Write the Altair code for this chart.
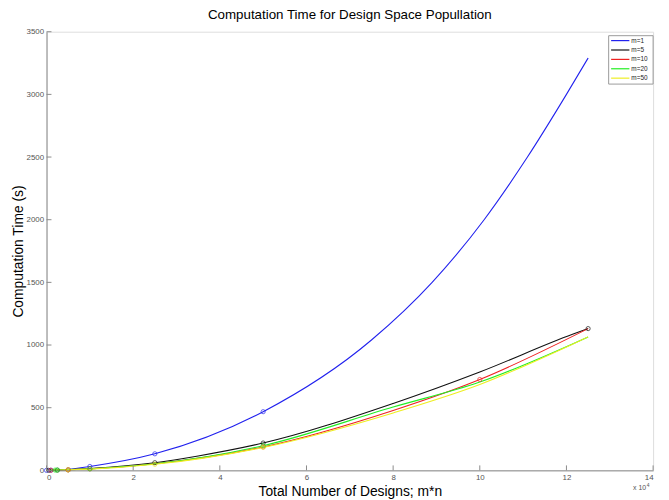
import altair as alt
import pandas as pd

# ---- data ----
SERIES = ["m=1", "m=5", "m=10", "m=20", "m=50"]
COLORS = ["#2222ee", "#111111", "#ee2222", "#22ee22", "#eeee22"]

# curve sample points (total designs, computation time in s)
X_M1 = [0, 1000, 5000, 10000, 25000, 50000, 75000, 89000, 101000, 111000, 120000, 125000]
Y_M1 = [0, 1, 8, 31, 132, 468, 1040, 1500, 2000, 2500, 3000, 3290]

X_M5 = [0, 5000, 10000, 25000, 35000, 50000, 80000, 100000, 121400, 125000]
Y_M5 = [0, 4, 14, 61, 115, 218, 534, 785, 1086, 1131]

X_M10 = [0, 1000, 10000, 25000, 50000, 80000, 100000, 125000]
Y_M10 = [0, 1, 12, 52, 187, 478, 725, 1131]

X_M20 = [0, 2000, 10000, 25000, 50000, 80000, 100000, 125000]
Y_M20 = [0, 2, 12, 52, 197, 505, 705, 1065]

X_M50 = [0, 5000, 10000, 25000, 50000, 80000, 100000, 121400, 125000]
Y_M50 = [0, 4, 10, 48, 183, 458, 685, 1007, 1065]

# marker (data) points
MX_M1 = [0, 1000, 10000, 25000, 50000]
MY_M1 = [0, 1, 31, 132, 468]
MX_M5 = [500, 2500, 5000, 25000, 50000, 125000]
MY_M5 = [0, 2, 4, 61, 218, 1131]
MX_M10 = [1000, 5000, 10000, 50000, 100000]
MY_M10 = [1, 4, 12, 187, 725]
MX_M20 = [2000, 2500, 10000, 50000]
MY_M20 = [2, 2, 12, 197]
MX_M50 = [5000, 25000, 50000]
MY_M50 = [4, 48, 183]

X_TICKS = [0, 20000, 40000, 60000, 80000, 100000, 120000, 140000]
Y_TICKS = [0, 500, 1000, 1500, 2000, 2500, 3000, 3500]

curve_x = [X_M1, X_M5, X_M10, X_M20, X_M50]
curve_y = [Y_M1, Y_M5, Y_M10, Y_M20, Y_M50]
mark_x = [MX_M1, MX_M5, MX_M10, MX_M20, MX_M50]
mark_y = [MY_M1, MY_M5, MY_M10, MY_M20, MY_M50]

curves = pd.DataFrame([
    {"series": s, "n": x, "t": y, "order": i}
    for s, xs, ys in zip(SERIES, curve_x, curve_y)
    for i, (x, y) in enumerate(zip(xs, ys))
])
markers = pd.DataFrame([
    {"series": s, "n": x, "t": y}
    for s, xs, ys in zip(SERIES, mark_x, mark_y)
    for x, y in zip(xs, ys)
])

W, H = 614, 444
color_scale = alt.Scale(domain=SERIES, range=COLORS)
xs = alt.Scale(domain=[0, 140000], nice=False)
ys = alt.Scale(domain=[0, 3500], nice=False)

font = "Liberation Sans"

x_enc = alt.X("n:Q", scale=xs, axis=alt.Axis(
    values=X_TICKS, labelExpr="datum.value / 10000", title="Total Number of Designs; m*n",
    grid=False, tickSize=0, labelPadding=3, titlePadding=3, labelFontSize=8,
    titleFontSize=14, labelColor="#555555", domainColor="#8a8a8a", titleFont=font, labelFont=font,
    titleFontWeight="normal", titleColor="#000000"))
y_enc = alt.Y("t:Q", scale=ys, axis=alt.Axis(
    values=Y_TICKS, format="d", title="Computation Time (s)", grid=False, tickSize=0,
    labelPadding=3, titlePadding=1, labelFontSize=8, titleFontSize=14, labelColor="#555555",
    domainColor="#8a8a8a", titleFont=font, labelFont=font, titleFontWeight="normal",
    titleColor="#000000"))

lines = alt.Chart(curves).mark_line(interpolate="monotone", strokeWidth=1.1, clip=True).encode(
    x=x_enc, y=y_enc,
    color=alt.Color("series:N", scale=color_scale, legend=None),
    order="order:Q",
    detail="series:N",
)

pts = alt.Chart(markers).mark_point(shape="circle", filled=False, size=18, strokeWidth=1).encode(
    x=alt.X("n:Q", scale=xs), y=alt.Y("t:Q", scale=ys),
    color=alt.Color("series:N", scale=color_scale, legend=None),
)

# inward tick marks (MATLAB style)
xt = alt.Chart(pd.DataFrame({"v": X_TICKS})).mark_rule(color="#8a8a8a", strokeWidth=1).encode(
    x=alt.X("v:Q", scale=xs), y=alt.value(H), y2=alt.value(H - 5))
yt = alt.Chart(pd.DataFrame({"v": Y_TICKS})).mark_rule(color="#8a8a8a", strokeWidth=1).encode(
    y=alt.Y("v:Q", scale=ys), x=alt.value(0), x2=alt.value(5))

# legend box
LX0, LY0 = 569, 4
legend_df = pd.DataFrame({
    "series": SERIES,
    "row": list(range(len(SERIES))),
})
legend_df["py"] = LY0 + 5 + legend_df["row"] * 9.5
legend_df["px1"] = LX0 + 2.5
legend_df["px2"] = LX0 + 21
legend_df["tx"] = LX0 + 23

box = alt.Chart(pd.DataFrame({"a": [0]})).mark_rect(
    fill="white", stroke="#9a9a9a", strokeWidth=1).encode(
    x=alt.value(LX0), x2=alt.value(LX0 + 45), y=alt.value(LY0), y2=alt.value(LY0 + 49))
leg_lines = alt.Chart(legend_df).mark_rule(strokeWidth=1.2).encode(
    x=alt.X("px1:Q", scale=None), x2="px2:Q", y=alt.Y("py:Q", scale=None),
    color=alt.Color("series:N", scale=color_scale, legend=None))
leg_text = alt.Chart(legend_df).mark_text(align="left", baseline="middle", fontSize=6.5,
                                          font=font, color="#222222").encode(
    x=alt.X("tx:Q", scale=None), y=alt.Y("py:Q", scale=None), text="series:N")

exp_text = alt.Chart(pd.DataFrame({"a": ["x 10"]})).mark_text(
    align="right", baseline="middle", fontSize=7, font=font, color="#555555").encode(
    x=alt.value(W - 7), y=alt.value(H + 18), text="a:N")
exp_sup = alt.Chart(pd.DataFrame({"a": ["4"]})).mark_text(
    align="left", baseline="middle", fontSize=5, font=font, color="#555555").encode(
    x=alt.value(W - 6.5), y=alt.value(H + 14.5), text="a:N")

chart = alt.layer(lines, pts, xt, yt, box, leg_lines, leg_text, exp_text, exp_sup).properties(
    width=W, height=H,
    title=alt.Title("Computation Time for Design Space Popullation", fontSize=13.5, font=font,
                    fontWeight="normal", color="#000000", offset=6),
    autosize=alt.AutoSizeParams(type="none"),
    padding={"left": 39, "top": 21, "right": 8, "bottom": 27},
).configure_view(stroke=None).configure(background="white")

chart.save("out.html", embed_options={"renderer": "svg", "actions": False})
